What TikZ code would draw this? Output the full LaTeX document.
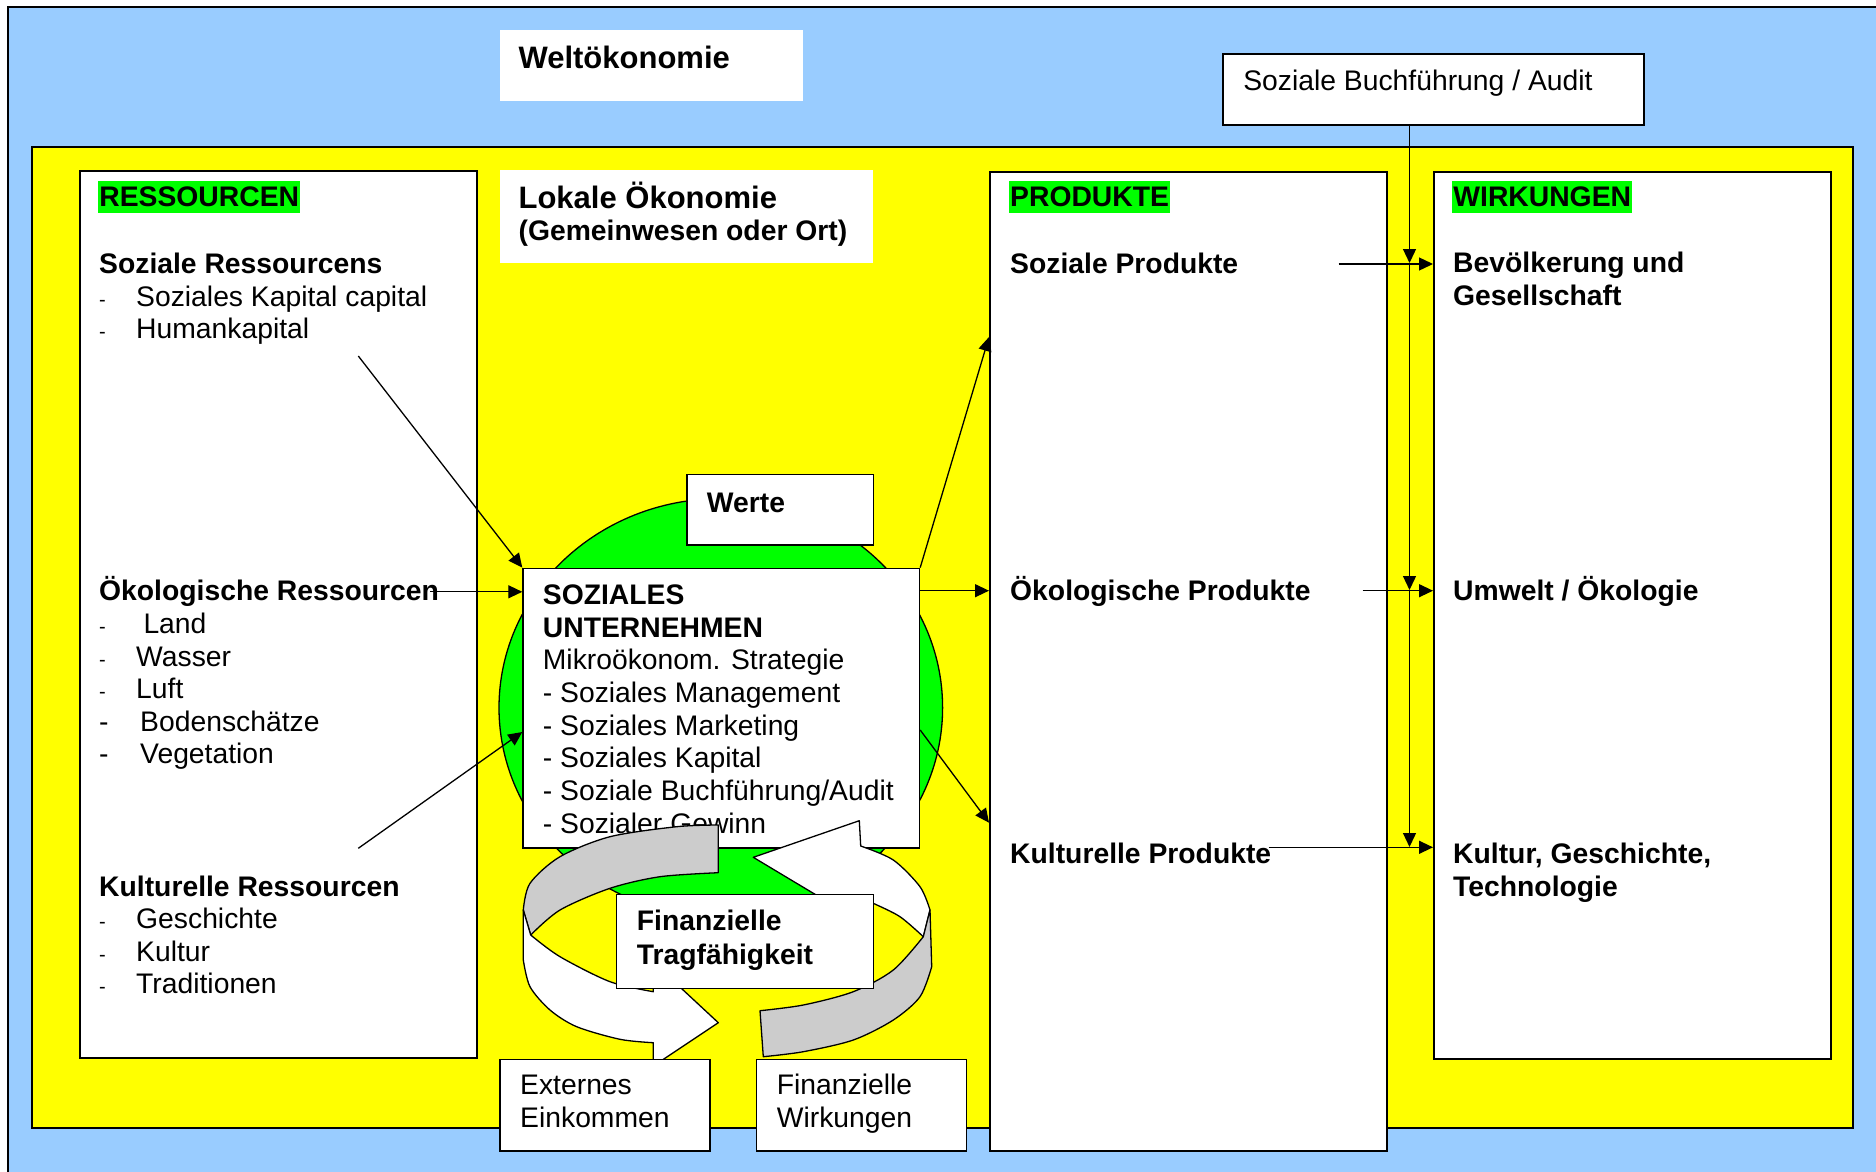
\documentclass[tikz,border=0pt]{standalone}
\usepackage{fontspec}
\setmainfont{Liberation Sans}
\usetikzlibrary{arrows.meta}
\definecolor{bgblue}{RGB}{153,204,255}
\definecolor{locyellow}{RGB}{255,255,0}
\definecolor{hlgreen}{RGB}{0,255,0}
\definecolor{ringgray}{RGB}{204,204,204}
\begin{document}
\begin{tikzpicture}[x=1pt,y=-1pt,
  txt/.style={anchor=base west, inner sep=0pt, font=\fontsize{28.3}{33}\selectfont},
  btxt/.style={anchor=base west, inner sep=0pt, font=\fontsize{28.3}{33}\selectfont\bfseries},
  ttl/.style={anchor=base west, inner sep=0pt, font=\fontsize{31}{36}\selectfont\bfseries},
  sdash/.style={anchor=base west, inner sep=0pt, font=\fontsize{20}{24}\selectfont},
  hl/.style={anchor=base west, font=\fontsize{28.3}{33}\selectfont\bfseries, fill=hlgreen, text height=25.6pt, text depth=6.6pt, inner ysep=0pt, inner xsep=1pt},
  wbox/.style={draw=black, fill=white, line width=1.5pt, anchor=north west, inner sep=0pt},
  plainbox/.style={fill=white, anchor=north west, inner sep=0pt},
  arr/.style={line width=1.3pt, -{Triangle[length=14pt,width=13pt]}},
  ring/.style={line width=1.3pt, line join=round, draw=black},
]
\useasboundingbox (0,0) rectangle (1876,1172);
\clip (0,0) rectangle (1876,1172);
\fill[white] (0,0) rectangle (1876,1172);
% world economy and local economy areas
\draw[fill=bgblue, line width=1.5pt] (8,7) rectangle (1900,1200);
\draw[fill=locyellow, line width=1.5pt] (32,147) rectangle (1853,1128);

% titles
\node[plainbox, minimum width=303pt, minimum height=71pt] (weltbox) at (499.4,30) {};
\node[ttl] (welt) at (518.4,68.3) {Weltökonomie};
\node[plainbox, minimum width=373pt, minimum height=93pt] (lokbox) at (499.4,170) {};
\node[ttl] (lok1) at (518.4,208.3) {Lokale Ökonomie};
\node[btxt] (lok2) at (518.4,240.5) {(Gemeinwesen oder Ort)};

% social accounting box
\node[wbox, minimum width=420.7pt, minimum height=70.5pt] (sbbox) at (1222.4,53.5) {};
\node[txt] (sbt) at (1243.1,90) {Soziale Buchführung / Audit};

% column boxes
\node[wbox, minimum width=397pt, minimum height=887pt] (res) at (79,170) {};
\node[wbox, minimum width=397pt, minimum height=979pt] (prod) at (989,171) {};
\node[wbox, minimum width=397pt, minimum height=887pt] (wirk) at (1433,171) {};

% RESSOURCEN
\node[hl] (resh) at (98.2,206.7) {RESSOURCEN};
\node[btxt] (r1) at (99,273) {Soziale Ressourcens};
\node[sdash] (r2d) at (99,306) {-};
\node[txt] (r2) at (136,306) {Soziales Kapital capital};
\node[sdash] (r3d) at (99,338.5) {-};
\node[txt] (r3) at (136,338.5) {Humankapital};
\node[btxt] (r4) at (99,600) {Ökologische Ressourcen};
\node[sdash] (r5d) at (99,633) {-};
\node[txt] (r5) at (143.3,633) {Land};
\node[sdash] (r6d) at (99,666.5) {-};
\node[txt] (r6) at (136,666.5) {Wasser};
\node[sdash] (r7d) at (99,698) {-};
\node[txt] (r7) at (136,698) {Luft};
\node[txt] (r8d) at (99,731) {-};
\node[txt] (r8) at (140,731) {Bodenschätze};
\node[txt] (r9d) at (99,763.5) {-};
\node[txt] (r9) at (140,763.5) {Vegetation};
\node[btxt] (r10) at (99,896.7) {Kulturelle Ressourcen};
\node[sdash] (r11d) at (99,928) {-};
\node[txt] (r11) at (136,928) {Geschichte};
\node[sdash] (r12d) at (99,961) {-};
\node[txt] (r12) at (136,961) {Kultur};
\node[sdash] (r13d) at (99,993.5) {-};
\node[txt] (r13) at (136,993.5) {Traditionen};

% PRODUKTE
\node[hl] (prodh) at (1009,206.7) {PRODUKTE};
\node[btxt] (p1t) at (1010,273.3) {Soziale Produkte};
\node[btxt] (p2t) at (1010,600.7) {Ökologische Produkte};
\node[btxt] (p3t) at (1010,863.3) {Kulturelle Produkte};

% WIRKUNGEN
\node[hl] (wirkh) at (1452.2,206.7) {WIRKUNGEN};
\node[btxt] (w1) at (1453,272.7) {Bevölkerung und};
\node[btxt] (w2) at (1453,305) {Gesellschaft};
\node[btxt] (w3) at (1453,600.5) {Umwelt / Ökologie};
\node[btxt] (w4) at (1453,863.7) {Kultur, Geschichte,};
\node[btxt] (w5) at (1453,896) {Technologie};

% green values ellipse
\draw[fill=hlgreen, line width=1.3pt] (720.8,707.7) ellipse [x radius=221.8pt, y radius=209.1pt];

% Werte
\node[wbox, minimum width=186.7pt, minimum height=70.4pt] (werte) at (686,473.6) {};
\node[btxt] (wertet) at (706.7,512) {Werte};

% social enterprise
\node[wbox, minimum width=396.4pt, minimum height=279.8pt] (soz) at (522.3,567.6) {};
\node[btxt] (s1) at (542.7,604.4) {SOZIALES};
\node[btxt] (s2) at (542.7,637.1) {UNTERNEHMEN};
\node[txt] (s3) at (542.7,669.8) {Mikroökonom. Strategie};
\node[txt] (s4) at (542.7,702.5) {- Soziales Management};
\node[txt] (s5) at (542.7,735.2) {- Soziales Marketing};
\node[txt] (s6) at (542.7,767.9) {- Soziales Kapital};
\node[txt] (s7) at (542.7,800.6) {- Soziale Buchführung/Audit};
\node[txt] (s8) at (542.7,833.3) {- Sozialer Gewinn};

% connectors: resources -> enterprise
\coordinate (hk) at (358.3,356);
\draw[arr] (hk) -- (soz.north west);
\coordinate (ok) at (430,591.8);
\draw[arr] (ok) -- (ok -| soz.west);
\coordinate (kr) at (358.3,848.3);
\coordinate (kt) at (500,732);
\draw[arr] (kr) -- (kt -| soz.west);

% enterprise -> products
\coordinate (pa) at (989,337);
\draw[arr] (soz.north east) -- (pa -| prod.west);
\coordinate (pb) at (919,590.7);
\draw[arr] (pb -| soz.east) -- (pb -| prod.west);
\coordinate (pc) at (919,730);
\coordinate (pd) at (989,822.7);
\draw[arr] (pc -| soz.east) -- (pd -| prod.west);

% products -> impacts
\coordinate (sp) at (1338.6,264);
\draw[arr] (sp) -- (sp -| wirk.west);
\coordinate (op) at (1362.5,590.7);
\draw[arr] (op) -- (op -| wirk.west);
\coordinate (kp) at (1268.6,847.3);
\draw[arr] (kp) -- (kp -| wirk.west);

% social accounting vertical line
\coordinate (v1) at (1409.5,263);
\coordinate (v2) at (1409.5,590);
\coordinate (v3) at (1409.5,847);
\draw[arr] (sbbox.south -| v1) -- (v1);
\draw[arr] (v1) -- (v2);
\draw[arr] (v2) -- (v3);

% circular arrows: left arrow
\filldraw[ring, fill=ringgray] plot[smooth] coordinates {(718.3,825) (676.7,826.7) (610,836.7) (560,856.7) (530,883.3) (523.3,910)}
  -- (530.7,935)
  -- plot[smooth] coordinates {(530.7,935) (560,910) (610,888.3) (660,876.7) (718.3,872.7)} -- cycle;
\filldraw[ring, fill=white] (523.3,910) -- plot[smooth] coordinates {(523.3,960) (530,986.7) (550,1010) (576.7,1026.7) (620,1039.3) (653.3,1042.7)}
  -- (653.3,1066) -- (718.3,1022.7) -- (653,962)
  -- plot[smooth] coordinates {(653.3,991.7) (610,981.7) (560,956.7) (530.7,935)} -- cycle;
% right arrow
\filldraw[ring, fill=white] (859.3,820.7) -- plot[smooth] coordinates {(860.7,846) (893.3,860) (920,886.7) (930,910)}
  -- (923.3,936.7)
  -- plot[smooth] coordinates {(923.3,936.7) (900,916.7) (873.3,903.3) (860.7,898)}
  -- (860.7,921.7) -- (753.3,857.3) -- cycle;
\filldraw[ring, fill=ringgray] (930,910) -- plot[smooth] coordinates {(931.7,966.7) (920,996.7) (893.3,1020) (853.3,1040) (803.3,1051.7) (763.3,1056.7)}
  -- (760,1010.7)
  -- plot[smooth] coordinates {(760,1010.7) (803.3,1005) (853.3,991.7) (893.3,970) (923.3,936.7)} -- cycle;

% financial boxes
\node[wbox, minimum width=257pt, minimum height=94pt] (trag) at (615.7,893.7) {};
\node[btxt] (t1) at (636.7,930) {Finanzielle};
\node[btxt] (t2) at (636.7,964) {Tragfähigkeit};
\node[wbox, minimum width=210pt, minimum height=91.8pt] (ext) at (499,1058.5) {};
\node[txt] (e1) at (520,1094.4) {Externes};
\node[txt] (e2) at (520,1127.6) {Einkommen};
\node[wbox, minimum width=210pt, minimum height=91.8pt] (finw) at (755.7,1058.5) {};
\node[txt] (f1) at (776.7,1094.4) {Finanzielle};
\node[txt] (f2) at (776.7,1127.6) {Wirkungen};
\end{tikzpicture}
\end{document}
